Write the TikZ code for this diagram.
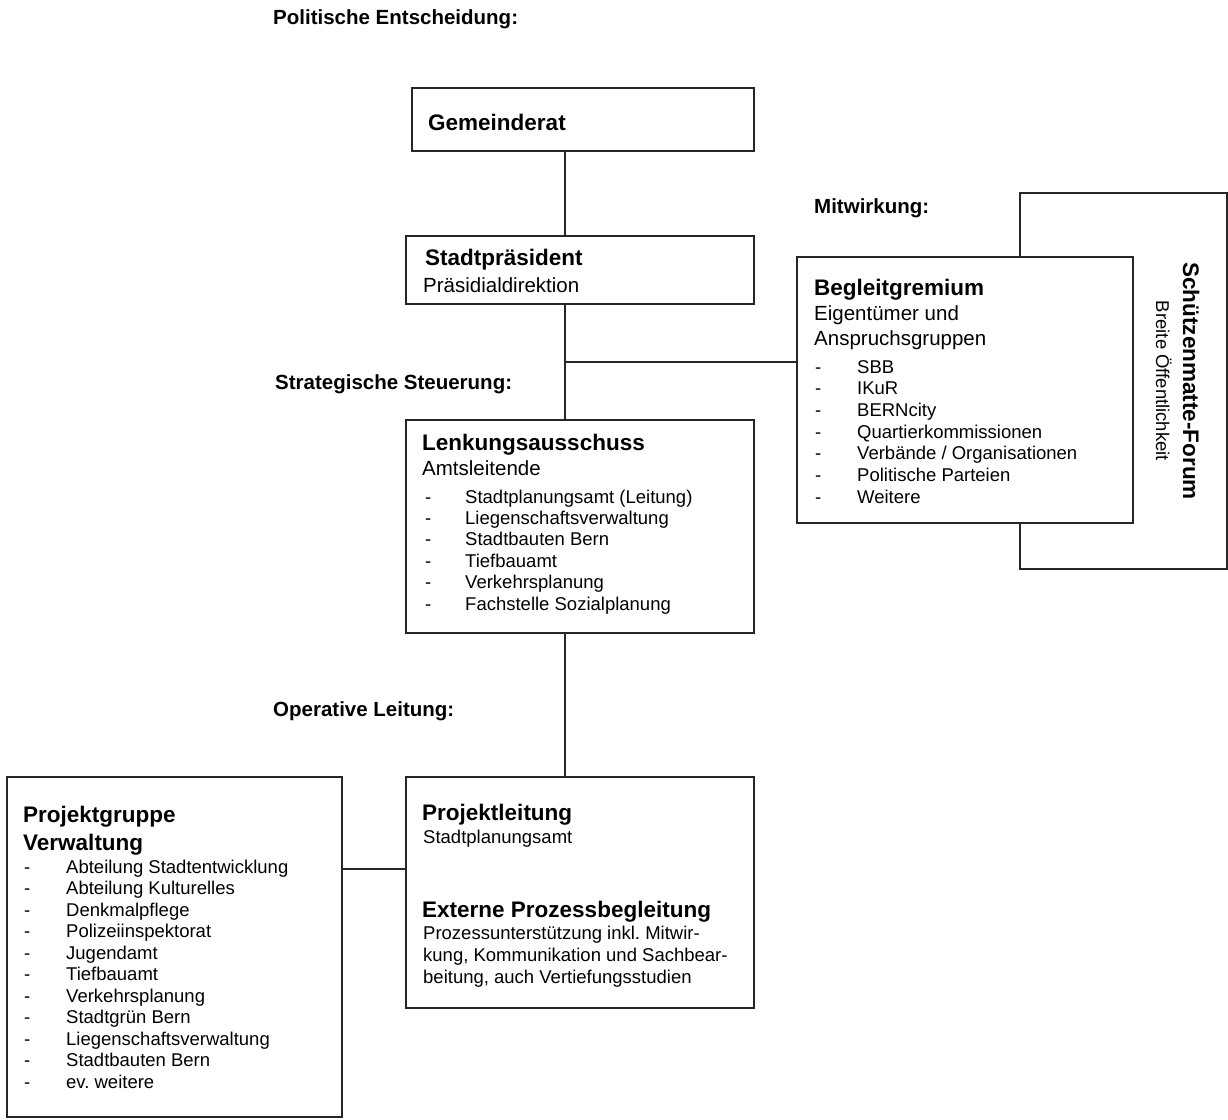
\documentclass[tikz,border=0pt]{standalone}
\usepackage{fontspec}
\setmainfont{Liberation Sans}
\frenchspacing
\begin{document}
\frenchspacing
\begin{tikzpicture}[x=1pt,y=-1pt,
  boxst/.style={draw=black!85, line width=1.2pt, fill=white, inner sep=0pt},
  lbl/.style={anchor=base west, inner sep=0pt, font=\fontsize{20.5}{24}\selectfont\bfseries},
  ttl/.style={anchor=base west, inner sep=0pt, font=\fontsize{22.5}{27}\selectfont\bfseries},
  subt/.style={anchor=base west, inner sep=0pt, font=\fontsize{20.5}{24}\selectfont},
  itm/.style={anchor=base west, inner sep=0pt, font=\fontsize{18.5}{21.5}\selectfont},
  conn/.style={draw=black!85, line width=1.2pt}]
\useasboundingbox (0,0) rectangle (1228,1119);

% boxes
\node[boxst, minimum width=342pt, minimum height=63pt] (gr) at (583,119.5) {};
\node[boxst, minimum width=348pt, minimum height=68pt] (sp) at (580,270) {};
\node[boxst, minimum width=348pt, minimum height=213pt] (lk) at (580,526.5) {};
\node[boxst, minimum width=348pt, minimum height=231pt] (pl) at (580,892.5) {};
\node[boxst, minimum width=335pt, minimum height=340pt] (pg) at (174.5,947) {};
\node[boxst, minimum width=207pt, minimum height=376pt] (fo) at (1123.5,381) {};
\node[boxst, minimum width=336pt, minimum height=266pt] (bg) at (965,390) {};

% connectors
\coordinate (spine) at (565,0);
\coordinate (junc) at (565,362);
\coordinate (pgj) at (0,869);
\draw[conn] (gr.south -| spine) -- (sp.north -| spine);
\draw[conn] (sp.south -| spine) -- (lk.north -| spine);
\draw[conn] (junc) -- (junc -| bg.west);
\draw[conn] (lk.south -| spine) -- (pl.north -| spine);
\draw[conn] (pg.east |- pgj) -- (pl.west |- pgj);

% section labels
\node[lbl] (l1) at (273,24) {Politische Entscheidung:};
\node[lbl] (l2) at (814,213) {Mitwirkung:};
\node[lbl] (l3) at (275,389) {Strategische Steuerung:};
\node[lbl] (l4) at (273,716) {Operative Leitung:};

% Gemeinderat
\node[ttl] (grt) at (428,130) {Gemeinderat};

% Stadtpraesident
\node[ttl] (spt) at (425,265) {Stadtpräsident};
\node[subt] (sps) at (423,292) {Präsidialdirektion};

% Begleitgremium
\node[ttl] (bgt) at (814,295) {Begleitgremium};
\node[subt] (bgs1) at (814,320) {Eigentümer und};
\node[subt] (bgs2) at (814,345) {Anspruchsgruppen};
\foreach \t [count=\i from 0] in {SBB, IKuR, BERNcity, Quartierkommissionen, Verbände / Organisationen, Politische Parteien, Weitere}
  \node[itm] (bgi\i) at (815,373+21.67*\i) {\makebox[42pt][l]{-}\t};

% Forum
\node[ttl, anchor=base, rotate=-90] (fot) at (1183,381) {Schützenmatte-Forum};
\node[itm, anchor=base, rotate=-90] (fos) at (1156,381) {Breite Öffentlichkeit};

% Lenkungsausschuss
\node[ttl] (lkt) at (422,450) {Lenkungsausschuss};
\node[subt] (lks) at (422,475) {Amtsleitende};
\foreach \t [count=\i from 0] in {Stadtplanungsamt (Leitung), Liegenschaftsverwaltung, Stadtbauten Bern, Tiefbauamt, Verkehrsplanung, Fachstelle Sozialplanung}
  \node[itm] (lki\i) at (425,503+21.4*\i) {\makebox[40pt][l]{-}\t};

% Projektgruppe
\node[ttl] (pgt1) at (23,822) {Projektgruppe};
\node[ttl] (pgt2) at (23,850) {Verwaltung};
\foreach \t [count=\i from 0] in {Abteilung Stadtentwicklung, Abteilung Kulturelles, Denkmalpflege, Polizeiinspektorat, Jugendamt, Tiefbauamt, Verkehrsplanung, Stadtgrün Bern, Liegenschaftsverwaltung, Stadtbauten Bern, ev.\ weitere}
  \node[itm] (pgi\i) at (24,873+21.5*\i) {\makebox[42pt][l]{-}\t};

% Projektleitung
\node[ttl] (plt) at (422,820) {Projektleitung};
\node[itm] (pls) at (423,843) {Stadtplanungsamt};
\node[ttl] (ext) at (422,917) {Externe Prozessbegleitung};
\node[itm] (exs1) at (423,939) {Prozessunterstützung inkl.\ Mitwir-};
\node[itm] (exs2) at (423,961) {kung, Kommunikation und Sachbear-};
\node[itm] (exs3) at (423,983) {beitung, auch Vertiefungsstudien};
\end{tikzpicture}
\end{document}
